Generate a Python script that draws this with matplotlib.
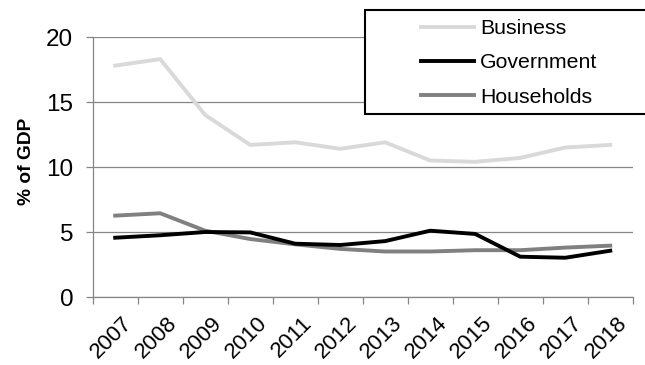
import matplotlib
matplotlib.use("Agg")
import matplotlib.pyplot as plt
from matplotlib.patches import Rectangle
import matplotlib.transforms as mtrans
import numpy as np

plt.rcParams['font.family'] = ['Liberation Sans', 'DejaVu Sans']

years = ["2007", "2008", "2009", "2010", "2011", "2012", "2013", "2014", "2015", "2016", "2017", "2018"]
business = [17.8, 18.3, 14.0, 11.7, 11.9, 11.4, 11.9, 10.5, 10.4, 10.7, 11.5, 11.7]
government = [4.56, 4.75, 5.0, 4.97, 4.1, 4.0, 4.3, 5.1, 4.85, 3.1, 3.02, 3.56]
households = [6.26, 6.44, 5.1, 4.46, 4.05, 3.7, 3.5, 3.5, 3.6, 3.6, 3.8, 3.95]

grid_c = "#868686"

fig = plt.figure(figsize=(6.45, 3.65), dpi=100)
ax = fig.add_axes([0.1437, 0.1863, 0.981 - 0.1437, 0.8986 - 0.1863])

x = np.arange(len(years))
ax.plot(x, business, color="#D9D9D9", lw=2.8, label="Business", zorder=3)
ax.plot(x, government, color="black", lw=2.8, label="Government", zorder=4)
ax.plot(x, households, color="#808080", lw=2.8, label="Households", zorder=3)

ax.set_xlim(-0.5, len(years) - 0.5)
ax.set_ylim(0, 20)
ax.set_yticks([0, 5, 10, 15, 20])
ax.yaxis.grid(True, color=grid_c, lw=0.9)
ax.set_axisbelow(True)

ax.set_xticks(x)
ax.set_xticklabels(years, rotation=45, ha='right', rotation_mode='anchor', fontsize=16)
ax.set_xticks(np.arange(-0.5, len(years), 1), minor=True)
ax.tick_params(axis='x', which='major', length=0, pad=11)
ax.tick_params(axis='x', which='minor', length=5, color=grid_c, width=0.9)
ax.tick_params(axis='y', length=5, color=grid_c, width=0.9, labelsize=17.5, pad=9)
offset = mtrans.ScaledTranslation(6 / 100, 0, fig.dpi_scale_trans)
for lbl in ax.get_xticklabels():
    lbl.set_transform(lbl.get_transform() + offset)

for s in ['top', 'right']:
    ax.spines[s].set_visible(False)
for s in ['left', 'bottom']:
    ax.spines[s].set_color(grid_c)
    ax.spines[s].set_linewidth(0.9)

ax.set_ylabel("% of GDP", fontsize=13.8, fontweight='bold')
ax.yaxis.set_label_coords(35 / 645, 1 - 161 / 365, transform=fig.transFigure)

# legend frame
fig.patches.append(Rectangle((365 / 645, 1 - 114 / 365), 300 / 645, 104 / 365,
                             transform=fig.transFigure, facecolor='white',
                             edgecolor='black', lw=1.5, zorder=5))
leg = fig.legend(loc='upper left', bbox_to_anchor=(421 / 645, 1 - 19 / 365),
                 frameon=False, fontsize=15.3, handlelength=2.5, handletextpad=0.28,
                 labelspacing=0.72, borderpad=0, borderaxespad=0)
leg.set_zorder(6)

fig.savefig("out.png", dpi=100)
